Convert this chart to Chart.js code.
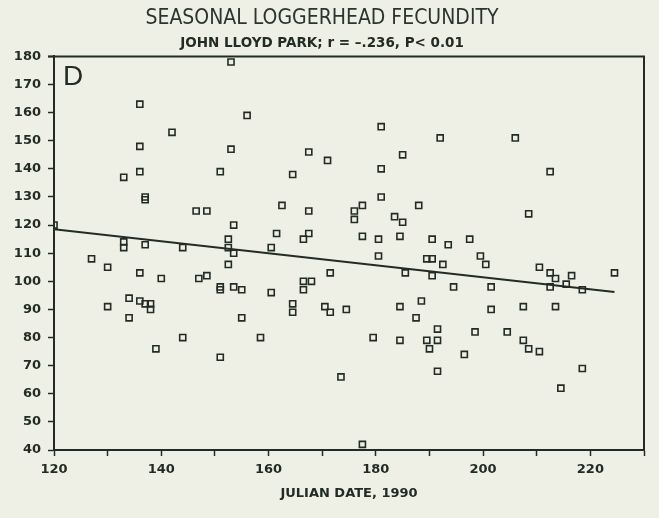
<!DOCTYPE html>
<html>
<head>
<meta charset="utf-8">
<script src="https://cdn.jsdelivr.net/npm/chart.js"></script>
<style>
  html, body { margin: 0; padding: 0; background: #eff0e5; }
  #wrap { width: 659px; height: 518px; }
</style>
</head>
<body>
<div id="wrap"><canvas id="myChart" width="659" height="518"></canvas></div>
<script>
  // julian date of each nest and clutch size
  const dates = [120, 127, 130, 130, 133, 133, 133, 134, 134, 136, 136, 136, 136, 136, 137, 137, 137, 137, 138, 138,
    139, 140, 142, 144, 144, 146.5, 148.5, 147, 148.5, 151, 151, 151, 151, 152.5, 152.5, 152.5, 153, 153, 153.5, 153.5,
    153.5, 155, 155, 156, 158.5, 160.5, 160.5, 161.5, 162.5, 164.5, 164.5, 164.5, 166.5, 166.5, 166.5, 167.5, 167.5, 167.5, 168, 171,
    170.5, 171.5, 171.5, 173.5, 174.5, 176, 176, 177.5, 177.5, 177.5, 179.5, 181, 181, 181, 180.5, 180.5, 183.5, 185, 185, 184.5,
    184.5, 184.5, 185.5, 188, 187.5, 188.5, 189.5, 189.5, 190.5, 190.5, 190.5, 190, 192, 191.5, 191.5, 191.5, 192.5, 193.5, 194.5, 196.5,
    197.5, 198.5, 199.5, 200.5, 201.5, 201.5, 204.5, 206, 207.5, 207.5, 208.5, 208.5, 210.5, 210.5, 212.5, 212.5, 213.5, 212.5, 213.5, 214.5,
    215.5, 216.5, 218.5, 218.5, 224.5];
  const eggs = [120, 108, 105, 91, 137, 114, 112, 94, 87, 163, 148, 139, 103, 93, 130, 129, 113, 92, 92, 90,
    76, 101, 153, 112, 80, 125, 125, 101, 102, 139, 98, 97, 73, 115, 112, 106, 178, 147, 120, 110,
    98, 97, 87, 159, 80, 112, 96, 117, 127, 92, 89, 138, 115, 100, 97, 146, 125, 117, 100, 143,
    91, 89, 103, 66, 90, 125, 122, 127, 116, 42, 80, 155, 140, 130, 115, 109, 123, 121, 145, 116,
    91, 79, 103, 127, 87, 93, 79, 108, 108, 115, 102, 76, 151, 83, 79, 68, 106, 113, 98, 74,
    115, 82, 109, 106, 98, 90, 82, 151, 91, 79, 124, 76, 75, 105, 139, 103, 101, 98, 91, 62,
    99, 102, 97, 69, 103];

  // fitted regression line, end points
  const fitDates = [120, 224.5];
  const fitEggs = [118.5, 96.2];

  const yTicks = [40, 50, 60, 70, 80, 90, 100, 110, 120, 130, 140, 150, 160, 170, 180];
  const xLabels = [120, 140, 160, 180, 200, 220];

  const ink = '#232c24';
  const boldFont = { family: "'DejaVu Sans', sans-serif", size: 13, weight: 'bold' };

  const framePlugin = {
    id: 'frame',
    beforeDraw(chart) {
      const c = chart.ctx;
      c.save();
      c.fillStyle = '#eff0e5';
      c.fillRect(0, 0, chart.width, chart.height);
      c.restore();
    },
    afterDraw(chart) {
      const a = chart.chartArea;
      const c = chart.ctx;
      c.save();
      c.strokeStyle = ink;
      c.lineWidth = 2;
      c.beginPath();
      c.moveTo(a.left - 6, a.top);
      c.lineTo(a.right, a.top);
      c.lineTo(a.right, a.bottom);
      c.stroke();
      c.fillStyle = ink;
      c.font = "28px 'Liberation Sans', sans-serif";
      c.textBaseline = 'middle';
      c.fillText('D', a.left + 9, a.top + 21);
      c.restore();
    }
  };

  const ctx = document.getElementById('myChart').getContext('2d');

  const myChart = new Chart(ctx, {
    data: {
      datasets: [
        {
          type: 'scatter',
          data: dates.map((d, i) => ({ x: d, y: eggs[i] })),
          pointStyle: 'rect',
          pointRadius: 4.3,
          borderWidth: 1.6,
          borderColor: ink,
          backgroundColor: 'rgba(0,0,0,0)'
        },
        {
          type: 'line',
          data: fitDates.map((d, i) => ({ x: d, y: fitEggs[i] })),
          borderColor: ink,
          borderWidth: 2,
          pointRadius: 0,
          fill: false
        }
      ]
    },
    options: {
      responsive: false,
      animation: false,
      layout: { padding: { left: 0, right: 15, top: 0, bottom: 0 } },
      plugins: {
        legend: { display: false },
        tooltip: { enabled: false },
        title: {
          display: true,
          text: 'SEASONAL LOGGERHEAD FECUNDITY',
          color: '#2c352d',
          font: { family: "'Liberation Sans Narrow', 'DejaVu Sans Condensed', sans-serif", size: 21, weight: 'normal' },
          padding: { top: 6, bottom: 0 }
        },
        subtitle: {
          display: true,
          text: 'JOHN LLOYD PARK; r = \u2013.236, P< 0.01',
          color: ink,
          font: { family: "'DejaVu Sans', sans-serif", size: 13.5, weight: 'bold' },
          padding: { top: 4, bottom: 5 }
        }
      },
      scales: {
        x: {
          type: 'linear',
          min: 120,
          max: 230,
          afterFit: s => { s.height = 68; },
          ticks: {
            stepSize: 10,
            color: ink,
            font: boldFont,
            padding: 6,
            maxRotation: 0,
            autoSkip: false,
            callback: v => (xLabels.includes(v) ? String(v) : '')
          },
          grid: { display: true, drawOnChartArea: false, tickLength: 6, color: ink, tickWidth: 1.5 },
          border: { display: true, color: ink, width: 2 },
          title: { display: true, text: 'JULIAN DATE, 1990', color: ink, font: { family: "'DejaVu Sans', sans-serif", size: 13, weight: 'bold' }, padding: { top: 0, bottom: 17 } }
        },
        y: {
          min: 40,
          max: 180,
          afterFit: s => { s.width = 54; },
          afterBuildTicks: s => { s.ticks = yTicks.map(v => ({ value: v })); },
          ticks: { color: ink, font: boldFont, padding: 7 },
          grid: { display: true, drawOnChartArea: false, tickLength: 6, color: ink, tickWidth: 1.5 },
          border: { display: true, color: ink, width: 2 }
        }
      }
    },
    plugins: [framePlugin]
  });
</script>
</body>
</html>
